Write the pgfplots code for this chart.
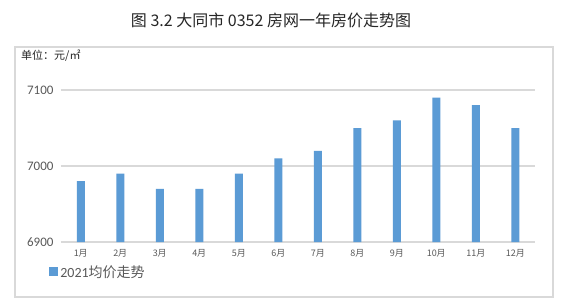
\documentclass[border=0pt]{standalone}
\usepackage{fontspec}
\setmainfont{Carlito}
\newfontfamily\cjk{Noto Sans CJK SC}
\usepackage{pgfplots}
\pgfplotsset{compat=1.18}
\definecolor{barblue}{HTML}{5B9BD5}
\definecolor{gridgray}{HTML}{D9D9D9}
\definecolor{txtgray}{HTML}{595959}
\begin{document}
\begin{tikzpicture}[x=1pt,y=1pt]
\path[use as bounding box] (0,0) rectangle (562,306);
\fill[white] (0,0) rectangle (562,306);
\draw[gridgray, line width=1.5pt] (15,9) rectangle (553,259);
\node[font=\cjk\fontsize{16}{18}\selectfont, text=black!85] at (271,286) {图 3.2 大同市 0352 房网一年房价走势图};
\node[anchor=west, font=\cjk\fontsize{11}{13}\selectfont, text=black!85, inner sep=0pt] at (21,250) {单位：元/㎡};
\begin{axis}[
  at={(61pt,64pt)}, anchor=south west,
  scale only axis, width=474pt, height=152pt,
  xmin=-0.5, xmax=11.5, ymin=6900, ymax=7100,
  ytick={6900,7000,7100},
  xtick={0,...,11},
  xticklabels={1月,2月,3月,4月,5月,6月,7月,8月,9月,10月,11月,12月},
  ybar, bar width=8pt,
  axis line style={draw=none},
  tick style={draw=none},
  ymajorgrids,
  grid style={gridgray, line width=1.2pt},
  /pgf/number format/assume math mode=true,
  /pgf/number format/set thousands separator={},
  yticklabel style={font=\fontsize{13}{15}\selectfont, text=txtgray, xshift=-4pt},
  xticklabel style={font=\cjk\fontsize{9}{10}\selectfont, text=txtgray},
  legend style={at={(axis description cs:-0.025,-0.197)}, anchor=west, draw=none, fill=none,
    font=\fontsize{14}{16}\selectfont, text=txtgray, inner sep=0pt},
  legend image code/.code={\fill[barblue] (1pt,-4.5pt) rectangle (10pt,4.5pt);},
]
\addplot[fill=barblue, draw=none] coordinates {
(0,6980) (1,6990) (2,6970) (3,6970) (4,6990) (5,7010)
(6,7020) (7,7050) (8,7060) (9,7090) (10,7080) (11,7050)};
\addlegendentry{2021{\cjk 均价走势}}
\end{axis}
\end{tikzpicture}
\end{document}
